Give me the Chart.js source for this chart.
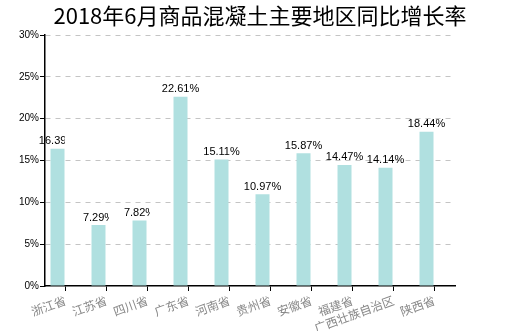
<!DOCTYPE html>
<html>
<head>
<meta charset="utf-8">
<script src="https://cdn.jsdelivr.net/npm/chart.js@4"></script>
<style>
  html, body { margin: 0; padding: 0; background: #fff; }
  #wrap { width: 506px; height: 331px; }
</style>
</head>
<body>
<div id="wrap"><canvas id="growthChart" width="506" height="331"></canvas></div>
<script>
// Chart data
const chartTitle = "2018年6月商品混凝土主要地区同比增长率";
const regions = ["浙江省", "江苏省", "四川省", "广东省", "河南省", "贵州省", "安徽省", "福建省", "广西壮族自治区", "陕西省"];
const growthRates = [16.39, 7.29, 7.82, 22.61, 15.11, 10.97, 15.87, 14.47, 14.14, 18.44];
const yTicks = [0, 5, 10, 15, 20, 25, 30];

// Title drawn by hand so it can sit slightly right of centre, like the original
const titlePlugin = {
  id: "titleText",
  afterDraw(chart) {
    const ctx = chart.ctx;
    ctx.save();
    ctx.font = '22px "Noto Sans CJK SC"';
    ctx.fillStyle = "#000";
    ctx.textAlign = "center";
    ctx.textBaseline = "middle";
    ctx.fillText(chartTitle, 260, 16);
    ctx.restore();
  },
};

// Value labels above the bars (the first three get cut off in the original)
const valueLabels = {
  id: "valueLabels",
  afterDatasetsDraw(chart) {
    const ctx = chart.ctx;
    const meta = chart.getDatasetMeta(0);
    ctx.save();
    ctx.font = '11px "Liberation Sans"';
    ctx.fillStyle = "#000";
    ctx.textAlign = "center";
    ctx.textBaseline = "bottom";
    meta.data.forEach((bar, i) => {
      const text = growthRates[i].toFixed(2) + "%";
      const w = ctx.measureText(text).width;
      ctx.save();
      if (i < 3) {
        ctx.beginPath();
        ctx.rect(bar.x - w / 2, bar.y - 20, 26, 20);
        ctx.clip();
      }
      ctx.fillText(text, bar.x, bar.y - 2);
      ctx.restore();
    });
    ctx.restore();
  },
};

const ctx = document.getElementById("growthChart").getContext("2d");
new Chart(ctx, {
  type: "bar",
  data: {
    labels: regions,
    datasets: [
      {
        label: "同比增长率",
        data: growthRates,
        backgroundColor: "#b0e0e0",
        barPercentage: 0.875,
        categoryPercentage: 0.78,
      },
      {
        // empty second series, pushes the bars left of the ticks
        label: "",
        data: regions.map(() => null),
        backgroundColor: "rgba(0,0,0,0)",
        barPercentage: 0.875,
        categoryPercentage: 0.78,
      },
    ],
  },
  options: {
    responsive: false,
    animation: false,
    layout: { padding: { top: 35, right: 51, left: 0, bottom: 0 } },
    plugins: {
      legend: { display: false },
      title: { display: false },
      tooltip: { enabled: false },
    },
    scales: {
      x: {
        afterFit(scale) { scale.height = 45; },
        grid: {
          offset: false,
          drawOnChartArea: false,
          tickLength: 5,
          tickColor: "#000",
        },
        border: { color: "#000", width: 1.5 },
        ticks: {
          color: "#888",
          font: { size: 12, family: '"Noto Sans CJK SC"' },
          maxRotation: 20,
          minRotation: 20,
          padding: 2,
          autoSkip: false,
        },
      },
      y: {
        min: 0,
        max: 30,
        afterFit(scale) { scale.width = 45; },
        afterBuildTicks(scale) { scale.ticks = yTicks.map((v) => ({ value: v })); },
        grid: {
          color: (c) => (c.tick && c.tick.value === 0 ? "rgba(0,0,0,0)" : "#c4c4c4"),
          tickLength: 5,
          tickColor: "#000",
          tickBorderDash: [],
        },
        border: { color: "#000", width: 1.5, dash: [5, 5] },
        ticks: {
          color: "#000",
          font: { size: 10, family: '"Liberation Sans"' },
          padding: 1,
          callback: (v) => v + "%",
        },
      },
    },
  },
  plugins: [titlePlugin, valueLabels],
});
</script>
</body>
</html>
